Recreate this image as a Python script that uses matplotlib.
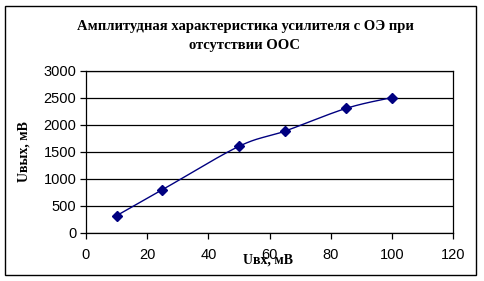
import numpy as np
import matplotlib
matplotlib.use("Agg")
import matplotlib.pyplot as plt
from matplotlib.patches import Rectangle

u_in = [10, 25, 50, 65, 85, 100]
u_out = [320, 800, 1600, 1880, 2300, 2500]
x_ticks = [0, 20, 40, 60, 80, 100, 120]
y_ticks = [0, 500, 1000, 1500, 2000, 2500, 3000]
title = "Амплитудная характеристика усилителя с ОЭ при\nотсутствии ООС"
xlabel = "Uвх, мВ"
ylabel = "Uвых, мВ"


def excel_smooth(xs, ys, n=30, t=1/6):
    xs = np.asarray(xs, float); ys = np.asarray(ys, float)
    px = np.concatenate([[xs[0]], xs, [xs[-1]]])
    py = np.concatenate([[ys[0]], ys, [ys[-1]]])
    outx, outy = [], []
    s = np.linspace(0, 1, n)
    for i in range(1, len(px) - 2):
        p0 = np.array([px[i], py[i]]); p3 = np.array([px[i+1], py[i+1]])
        c1 = p0 + (np.array([px[i+1], py[i+1]]) - np.array([px[i-1], py[i-1]])) * t
        c2 = p3 - (np.array([px[i+2], py[i+2]]) - np.array([px[i], py[i]])) * t
        b = ((1-s)**3)[:, None]*p0 + (3*(1-s)**2*s)[:, None]*c1 + (3*(1-s)*s**2)[:, None]*c2 + (s**3)[:, None]*p3
        outx.extend(b[:, 0]); outy.extend(b[:, 1])
    return np.array(outx), np.array(outy)


fig = plt.figure(figsize=(4.85, 2.81), dpi=100)
W, H = 485, 281
fig.patches.append(Rectangle((5/W, 1-275/H), 471/W, 269/H, transform=fig.transFigure,
                             fill=False, edgecolor='black', linewidth=1.0))
ax = fig.add_axes([86/W, 1-233/H, (453-86)/W, (233-70.5)/H])
ax.set_xlim(0, 120)
ax.set_ylim(0, 3000)
ax.set_xticks(x_ticks)
ax.set_yticks(y_ticks)
ax.yaxis.grid(True, color='black', linewidth=0.9)
ax.set_axisbelow(True)
for sp in ax.spines.values():
    sp.set_color('black'); sp.set_linewidth(0.9)
ax.tick_params(axis='x', direction='out', length=4, width=0.9, labelsize=10.5, pad=7)
ax.tick_params(axis='y', direction='out', length=4, width=0.9, labelsize=10.5, pad=3)
for lab in ax.get_xticklabels() + ax.get_yticklabels():
    lab.set_fontfamily('Liberation Sans')

sx, sy = excel_smooth(u_in, u_out)
ax.plot(sx, sy, color='#000080', linewidth=1.0)
ax.plot(u_in, u_out, linestyle='none', marker='D', markersize=5, color='#000080')

fig.text(245/W, 1-36/H, title, ha='center', va='center', fontsize=10.5,
         fontweight='bold', family='Liberation Serif', linespacing=1.55)
fig.text(268/W, 1-260/H, xlabel, ha='center', va='center', fontsize=10,
         fontweight='bold', family='Liberation Serif')
fig.text(24/W, 1-152/H, ylabel, ha='center', va='center', fontsize=10,
         fontweight='bold', family='Liberation Serif', rotation=90)

fig.savefig("out.png", dpi=100)
